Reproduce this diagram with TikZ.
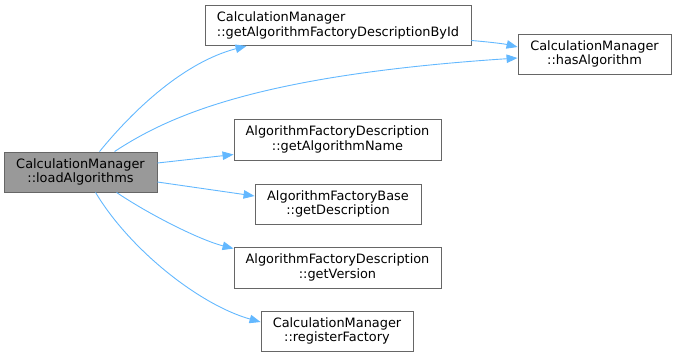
\documentclass[tikz,border=0pt]{standalone}
\usepackage{fontspec}
\setmainfont{DejaVu Sans}
\usetikzlibrary{arrows.meta,calc}
\definecolor{edgeblue}{HTML}{63B8FF}
\definecolor{boxline}{HTML}{666666}
\definecolor{boxfill}{HTML}{999999}
\begin{document}
\begin{tikzpicture}[x=1pt,y=-1pt,
  fn/.style={draw=boxline,line width=0.9pt,fill=white,align=center,inner sep=0pt,
    font=\fontsize{12.9}{14.2}\selectfont},
  cur/.style={fn,fill=boxfill},
  call/.style={draw=edgeblue,line width=0.9pt,-{Triangle[length=11pt,width=8.5pt]}}]
\useasboundingbox (0,0) rectangle (676,357);
% functions
\node[cur,minimum width=153pt,minimum height=40pt] (load) at (80.5,172) {CalculationManager\\::loadAlgorithms};
\node[fn,align=left,minimum width=266pt,minimum height=40pt] (byid) at (338,25.5) {CalculationManager\\::getAlgorithmFactoryDescriptionById};
\node[fn,minimum width=153pt,minimum height=40pt] (has) at (594.5,54) {CalculationManager\\::hasAlgorithm};
\node[fn,minimum width=207pt,minimum height=41pt] (name) at (337.5,139.5) {AlgorithmFactoryDescription\\::getAlgorithmName};
\node[fn,minimum width=166pt,minimum height=40pt] (desc) at (338,204) {AlgorithmFactoryBase\\::getDescription};
\node[fn,minimum width=207pt,minimum height=41pt] (ver) at (337.5,267.5) {AlgorithmFactoryDescription\\::getVersion};
\node[fn,minimum width=152pt,minimum height=40pt] (reg) at (337,331) {CalculationManager\\::registerFactory};
% calls
\draw[call] ($(load.north west)+(96,0)$) .. controls (135,108) and (185,62) .. ($(byid.south west)+(42,0)$);
\draw[call] ($(load.north west)+(111,0)$) .. controls (170,115) and (260,75) .. ($(has.west)+(0,4)$);
\draw[call] ($(byid.east)+(0,15)$) .. controls (490,42) and (505,44) .. ($(has.west)+(0,-7)$);
\draw[call] ($(load.east)+(0,-9)$) -- ($(name.west)+(0,15)$);
\draw[call] ($(load.east)+(0,10)$) -- ($(desc.west)+(0,-8)$);
\draw[call] ($(load.south west)+(113,0)$) .. controls (150,215) and (200,240) .. ($(ver.north west)+(0,2)$);
\draw[call] ($(load.south west)+(92,0)$) .. controls (130,250) and (200,305) .. ($(reg.west)+(0,-9)$);
\end{tikzpicture}
\end{document}
